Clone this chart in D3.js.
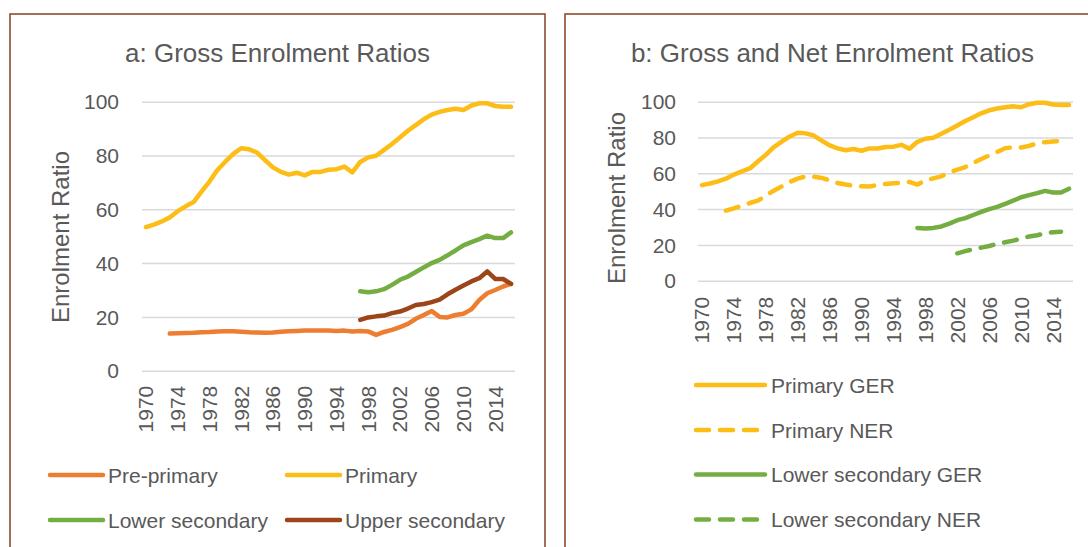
<!DOCTYPE html>
<html>
<head>
<meta charset="utf-8">
<script src="https://cdn.jsdelivr.net/npm/d3@7"></script>
<style>
  body { margin: 0; background: #fff; }
  svg { display: block; font-family: "Liberation Sans", Arial, sans-serif; }
</style>
</head>
<body>
<svg id="chart" width="1088" height="547"></svg>
<script>
// years on the category axis
const years = d3.range(1970, 2017);
const tickYears = d3.range(1970, 2015, 4);
const yTicks = [0, 20, 40, 60, 80, 100];

// series values, one per year (null = no data)
const primary = [53.4, 54.3, 55.5, 57.0, 59.3, 61.1, 62.7, 66.6, 70.3, 74.6,
    77.7, 80.6, 82.7, 82.3, 81.1, 78.3, 75.6, 73.9, 72.9, 73.6,
    72.6, 73.9, 73.9, 74.7, 74.9, 75.9, 73.7, 77.6, 79.3, 79.9,
    82.1, 84.3, 86.7, 89.2, 91.3, 93.5, 95.2, 96.2, 96.9, 97.4,
    96.9, 98.6, 99.4, 99.4, 98.4, 98.1, 98.1];
const prePrimary = [null, null, null, 13.8, 13.9, 14.0, 14.1, 14.3, 14.4, 14.6,
    14.7, 14.7, 14.5, 14.3, 14.2, 14.1, 14.2, 14.5, 14.7, 14.8,
    14.9, 14.9, 14.9, 14.9, 14.8, 14.9, 14.6, 14.8, 14.6, 13.3,
    14.4, 15.2, 16.2, 17.4, 19.3, 20.7, 22.2, 20.0, 19.8, 20.7,
    21.2, 22.8, 26.3, 28.8, 30.0, 31.3, 32.3];
const lowerSec = [null, null, null, null, null, null, null, null, null, null,
    null, null, null, null, null, null, null, null, null, null,
    null, null, null, null, null, null, null, 29.5, 29.2, 29.5,
    30.3, 31.9, 33.8, 35.0, 36.7, 38.4, 40.0, 41.2, 42.9, 44.7,
    46.6, 47.8, 48.9, 50.2, 49.3, 49.3, 51.4];
const upperSec = [null, null, null, null, null, null, null, null, null, null,
    null, null, null, null, null, null, null, null, null, null,
    null, null, null, null, null, null, null, 18.9, 19.8, 20.2,
    20.5, 21.4, 22.0, 23.1, 24.4, 24.8, 25.5, 26.4, 28.4, 30.1,
    31.7, 33.2, 34.4, 36.9, 34.1, 34.1, 32.3];
const primaryNER = [null, null, null, 39.1, 40.4, 41.9, 43.4, 44.7, 47.5, 50.3,
    52.7, 55.2, 57.0, 58.3, 58.1, 57.4, 56.1, 54.6, 53.7, 53.1,
    52.7, 52.6, 53.5, 54.0, 54.4, 54.6, 55.2, 53.7, 56.1, 57.2,
    58.3, 60.6, 62.0, 63.5, 65.8, 68.0, 69.9, 71.9, 74.0, 74.6,
    74.4, 75.3, 76.8, 77.4, 77.8, 78.1, null];
const lowerSecNER = [null, null, null, null, null, null, null, null, null, null,
    null, null, null, null, null, null, null, null, null, null,
    null, null, null, null, null, null, null, null, null, null,
    null, null, 15.3, 16.5, 17.6, 18.5, 19.4, 20.6, 21.5, 22.4,
    23.5, 24.7, 25.4, 26.5, 27.1, 27.4, null];

const colors = {
    pre: "#ED7D31",
    prim: "#FBBD16",
    lower: "#74AD42",
    upper: "#9C4519"
};
const textColor = "#595959";
const gridColor = "#D9D9D9";
const borderColor = "#8D4D2C";
const dash = "13,11";

const svg = d3.select("#chart");

// draws one panel: frame, title, axes, lines, legend
function drawPanel(cfg) {
    const g = svg.append("g");

    g.append("rect")
        .attr("x", cfg.box[0]).attr("y", cfg.box[1])
        .attr("width", cfg.box[2]).attr("height", cfg.box[3])
        .attr("fill", "none")
        .attr("stroke", borderColor)
        .attr("stroke-width", 1.6);

    g.append("text")
        .attr("x", cfg.box[0] + cfg.box[2] / 2)
        .attr("y", 62)
        .attr("text-anchor", "middle")
        .attr("fill", textColor)
        .style("font-size", "26px")
        .text(cfg.title);

    const x = d3.scaleBand().domain(years).range(cfg.xRange).padding(0);
    const y = d3.scaleLinear().domain([0, 100]).range(cfg.yRange);
    const cx = yr => x(yr) + x.bandwidth() / 2;

    // y axis with gridlines
    const yAxis = g.append("g")
        .attr("transform", "translate(" + cfg.xRange[0] + ",0)")
        .call(d3.axisLeft(y)
            .tickValues(yTicks)
            .tickSize(-(cfg.xRange[1] - cfg.xRange[0]))
            .tickPadding(cfg.yPad));
    yAxis.select(".domain").remove();
    yAxis.selectAll("line").attr("stroke", gridColor).attr("stroke-width", 1.5);
    yAxis.selectAll("text")
        .attr("fill", textColor)
        .attr("dy", "0.34em")
        .style("font-size", "21px")
        .style("font-family", "Liberation Sans, Arial, sans-serif");

    // x axis, rotated year labels
    const xAxis = g.append("g")
        .attr("transform", "translate(0," + cfg.yRange[0] + ")")
        .call(d3.axisBottom(x).tickValues(tickYears).tickSize(0));
    xAxis.select(".domain").remove();
    xAxis.selectAll("text")
        .attr("fill", textColor)
        .style("font-size", "21px")
        .style("font-family", "Liberation Sans, Arial, sans-serif")
        .attr("text-anchor", "end")
        .attr("dy", null)
        .attr("y", null)
        .attr("transform", "translate(7.5," + cfg.xLabelGap + ") rotate(-90)");

    // y axis title
    g.append("text")
        .attr("transform", "translate(" + cfg.yTitle[0] + "," + cfg.yTitle[1] + ") rotate(-90)")
        .attr("text-anchor", "middle")
        .attr("fill", textColor)
        .style("font-size", "24px")
        .text("Enrolment Ratio");

    const line = d3.line()
        .defined(d => d.v !== null)
        .x(d => cx(d.year))
        .y(d => y(d.v));

    cfg.series.forEach(s => {
        const pts = years.map((yr, i) => ({year: yr, v: s.values[i]}));
        g.append("path")
            .datum(pts)
            .attr("d", line)
            .attr("fill", "none")
            .attr("stroke", s.color)
            .attr("stroke-width", 4.5)
            .attr("stroke-linecap", "round")
            .attr("stroke-linejoin", "round")
            .attr("stroke-dasharray", s.dashed ? dash : null);
    });

    // legend
    cfg.series.forEach(s => {
        const lg = g.append("g");
        lg.append("line")
            .attr("x1", s.legend[0]).attr("x2", s.legend[0] + (s.dashed ? cfg.legendLen - 7 : cfg.legendLen))
            .attr("y1", s.legend[1]).attr("y2", s.legend[1])
            .attr("stroke", s.color)
            .attr("stroke-width", 4.5)
            .attr("stroke-linecap", "round")
            .attr("stroke-dasharray", s.dashed ? dash : null);
        lg.append("text")
            .attr("x", s.legend[0] + cfg.legendLen + cfg.legendGap)
            .attr("y", s.legend[1] + 7.5)
            .attr("fill", textColor)
            .style("font-size", "21px")
            .text(s.name);
    });
}

drawPanel({
    box: [10, 14, 535, 600],
    title: "a: Gross Enrolment Ratios",
    xRange: [142, 515],
    yRange: [370.7, 101.7],
    yPad: 23,
    xLabelGap: 15,
    yTitle: [69, 237],
    legendLen: 53,
    legendGap: 5,
    series: [
        {name: "Pre-primary", values: prePrimary, color: colors.pre, legend: [50, 475]},
        {name: "Primary", values: primary, color: colors.prim, legend: [287, 475]},
        {name: "Lower secondary", values: lowerSec, color: colors.lower, legend: [50, 520]},
        {name: "Upper secondary", values: upperSec, color: colors.upper, legend: [287, 520]}
    ]
});

drawPanel({
    box: [565, 14, 535, 600],
    title: "b: Gross and Net Enrolment Ratios",
    xRange: [698, 1073],
    yRange: [280.7, 101.7],
    yPad: 22,
    xLabelGap: 16,
    yTitle: [625, 198],
    legendLen: 69,
    legendGap: 6,
    series: [
        {name: "Primary GER", values: primary, color: colors.prim, legend: [696, 385]},
        {name: "Primary NER", values: primaryNER, color: colors.prim, dashed: true, legend: [696, 430]},
        {name: "Lower secondary GER", values: lowerSec, color: colors.lower, legend: [696, 474.5]},
        {name: "Lower secondary NER", values: lowerSecNER, color: colors.lower, dashed: true, legend: [696, 519.5]}
    ]
});
</script>
</body>
</html>
